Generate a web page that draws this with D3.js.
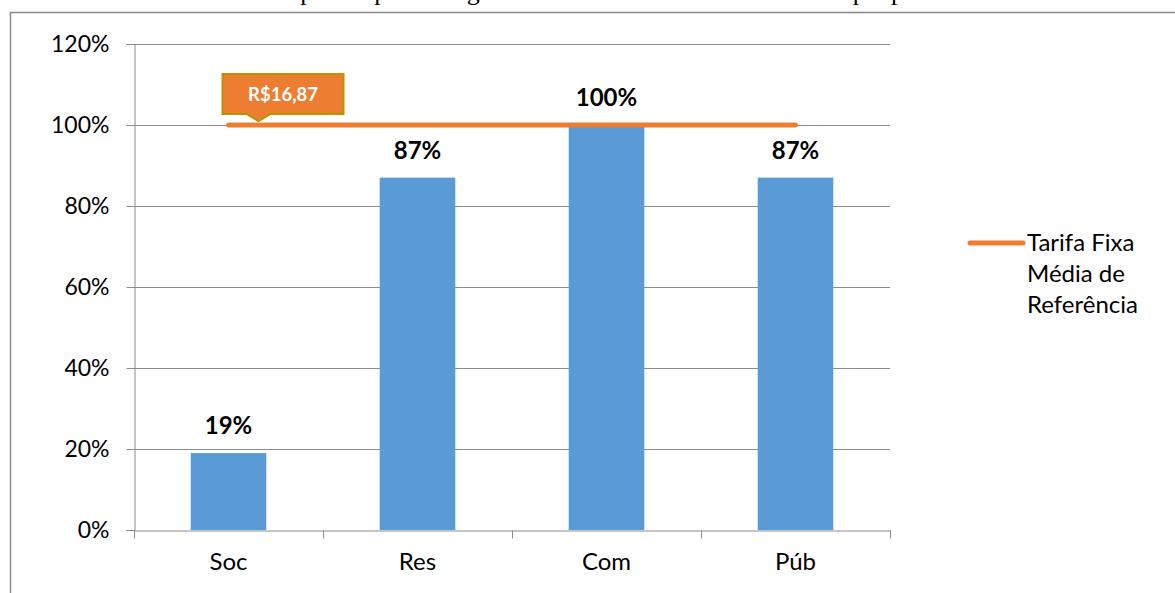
<!DOCTYPE html>
<html>
<head>
<meta charset="utf-8">
<script src="https://cdn.jsdelivr.net/npm/d3@7"></script>
<style>
  body { margin: 0; background: #fff; }
  svg { display: block; }
</style>
</head>
<body>
<svg id="chart"></svg>
<script>
const categories = ["Soc", "Res", "Com", "Púb"];
const barValues = [0.19, 0.87, 1.00, 0.87];
const lineValues = [1.00, 1.00, 1.00, 1.00];
const yTicks = [0, 0.2, 0.4, 0.6, 0.8, 1.0, 1.2];
const seriesName = ["Tarifa Fixa", "Média de", "Referência"];
const calloutText = "R$16,87";
const titleText = "Gráfico 5: Tarifa fixa mapeada por categoria com base no valor tarifário proposto";

const width = 1175, height = 593;
const plotLeft = 134, plotRight = 890, plotTop = 44, plotBottom = 530;
const font = "Lato, 'Open Sans', sans-serif";

const svg = d3.select("#chart").attr("width", width).attr("height", height);

// title cut off at top, only its lower part shows
svg.append("text")
  .attr("x", 12).attr("y", 0)
  .attr("textLength", 940).attr("lengthAdjust", "spacing")
  .style("font-family", "'Liberation Serif', serif")
  .style("font-size", "26px")
  .text(titleText);

// outer frame
svg.append("path")
  .attr("d", `M10.5,${height} V12.5 H${width}`)
  .attr("fill", "none").attr("stroke", "#8a8a8a").attr("stroke-width", 1.5);

const x = d3.scaleBand().domain(categories).range([plotLeft, plotRight]);
const y = d3.scaleLinear().domain([0, 1.2]).range([plotBottom, plotTop]);

// gridlines
svg.append("g").selectAll("line")
  .data(yTicks.filter(d => d > 0))
  .enter().append("line")
  .attr("x1", plotLeft).attr("x2", plotRight)
  .attr("y1", d => Math.round(y(d)) + 0.5).attr("y2", d => Math.round(y(d)) + 0.5)
  .attr("stroke", "#8c8c8c").attr("stroke-width", 1);

// y axis
const yAxis = svg.append("g")
  .attr("transform", `translate(${plotLeft + 0.5},0)`)
  .call(d3.axisLeft(y).tickValues(yTicks).tickSize(8).tickPadding(17)
    .tickFormat(d => Math.round(d * 100) + "%"));
yAxis.selectAll("line, path").attr("stroke", "#8c8c8c");
yAxis.selectAll("text").style("font-family", font).style("font-size", "23px").attr("fill", "#000");

// x axis
const xAxis = svg.append("g")
  .attr("transform", `translate(0,${plotBottom + 0.5})`)
  .call(d3.axisBottom(x).tickSize(0).tickPadding(22));
xAxis.select(".domain").attr("stroke", "#8c8c8c");
xAxis.selectAll("text").style("font-family", font).style("font-size", "24px").attr("fill", "#000");
xAxis.selectAll(".sep")
  .data(categories.concat([null]))
  .enter().append("line")
  .attr("x1", (d, i) => (i < categories.length ? x(d) : x.range()[1]) + 0.5)
  .attr("x2", (d, i) => (i < categories.length ? x(d) : x.range()[1]) + 0.5)
  .attr("y1", 0).attr("y2", 8)
  .attr("stroke", "#8c8c8c");

// bars
const bw = x.bandwidth() * 0.4;
svg.append("g").selectAll("rect")
  .data(barValues)
  .enter().append("rect")
  .attr("x", (d, i) => x(categories[i]) + (x.bandwidth() - bw) / 2)
  .attr("y", d => y(d))
  .attr("width", bw)
  .attr("height", d => y(0) - y(d))
  .attr("fill", "#5B9BD5");

// bar labels
svg.append("g").selectAll("text")
  .data(barValues)
  .enter().append("text")
  .attr("x", (d, i) => x(categories[i]) + x.bandwidth() / 2)
  .attr("y", d => y(d) - 19)
  .attr("text-anchor", "middle")
  .style("font-family", font).style("font-size", "24px").style("font-weight", "bold")
  .text(d => Math.round(d * 100) + "%");

// line series
const line = d3.line()
  .x((d, i) => x(categories[i]) + x.bandwidth() / 2)
  .y(d => y(d));
svg.append("path")
  .datum(lineValues)
  .attr("d", line)
  .attr("fill", "none").attr("stroke", "#ED7D31")
  .attr("stroke-width", 5).attr("stroke-linecap", "round");

// callout on first point
const px = x(categories[0]) + x.bandwidth() / 2 + 30;
const py = y(lineValues[0]);
const bx0 = px - 36, bx1 = px + 85, by0 = py - 51, by1 = py - 11;
svg.append("path")
  .attr("d", `M${bx0},${by0} H${bx1} V${by1} H${px + 12} L${px},${py - 4} L${px - 12},${by1} H${bx0} Z`)
  .attr("fill", "#ED7D31").attr("stroke", "#BF9000").attr("stroke-width", 2);
svg.append("text")
  .attr("x", (bx0 + bx1) / 2).attr("y", (by0 + by1) / 2 + 7)
  .attr("text-anchor", "middle")
  .attr("fill", "#fff")
  .style("font-family", font).style("font-size", "18.5px").style("font-weight", "bold")
  .text(calloutText);

// legend
const legend = svg.append("g").attr("transform", "translate(968,243)");
legend.append("line")
  .attr("x1", 2).attr("x2", 55).attr("y1", 0).attr("y2", 0)
  .attr("stroke", "#ED7D31").attr("stroke-width", 5).attr("stroke-linecap", "round");
legend.append("text")
  .attr("x", 59).attr("y", 8)
  .style("font-family", font).style("font-size", "24px")
  .selectAll("tspan")
  .data(seriesName)
  .enter().append("tspan")
  .attr("x", 59).attr("dy", (d, i) => i === 0 ? 0 : 31)
  .text(d => d);
</script>
</body>
</html>
